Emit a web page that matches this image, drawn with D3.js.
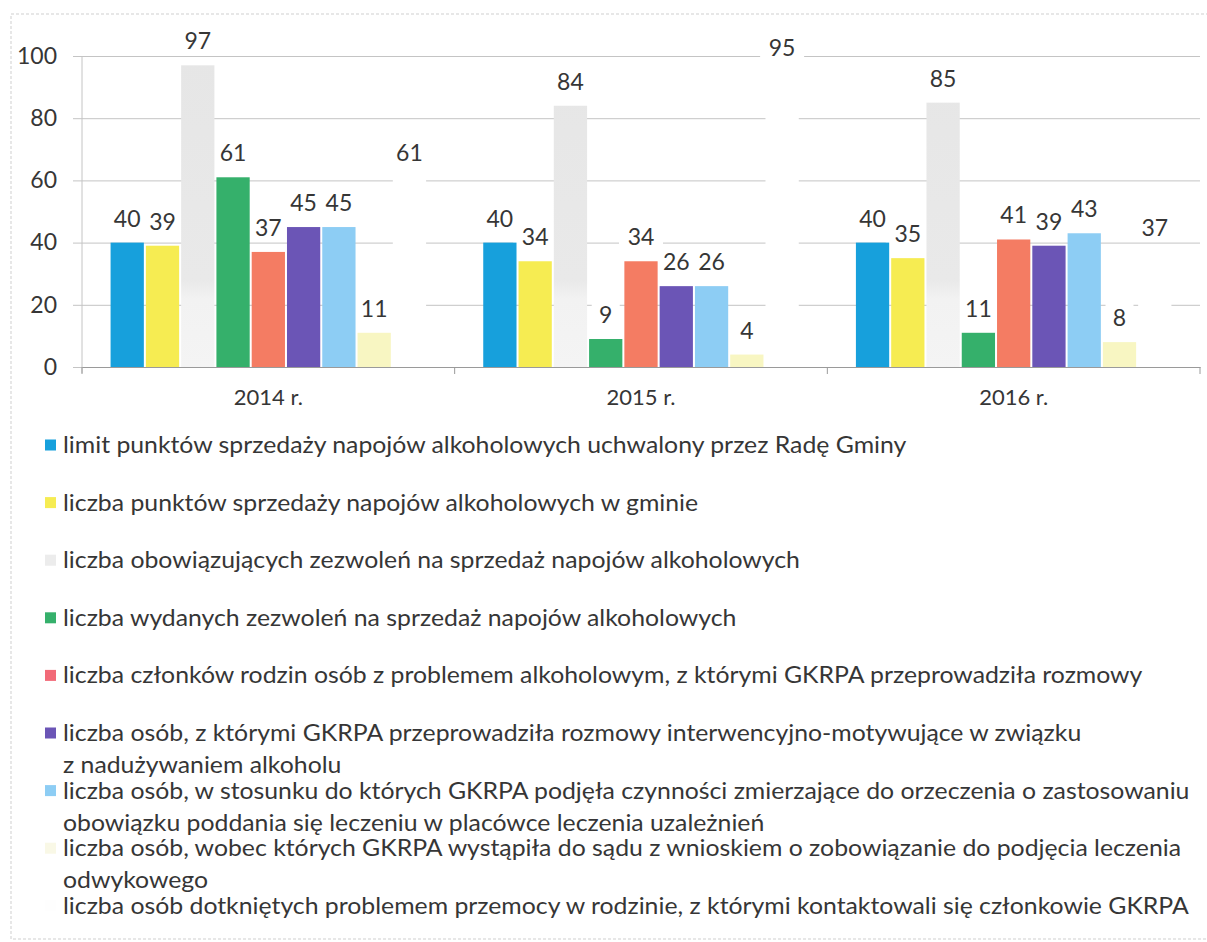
<!DOCTYPE html>
<html>
<head>
<meta charset="utf-8">
<script src="https://cdn.jsdelivr.net/npm/d3@7"></script>
<style>
  body { margin: 0; background: white; }
  svg { display: block; }
</style>
</head>
<body>
<div id="bigdiv"></div>
<script>
// categories
const years = ['2014 r.', '2015 r.', '2016 r.']

// series values, one array per series, in year order
const limitPunktow = [40, 40, 40]
const punktySprzedazy = [39, 34, 35]
const zezwoleniaObowiazujace = [97, 84, 85]
const zezwoleniaWydane = [61, 9, 11]
const czlonkowieRodzin = [37, 34, 41]
const rozmowyMotywujace = [45, 26, 39]
const czynnosciOrzeczenie = [45, 26, 43]
const wnioskiDoSadu = [11, 4, 8]
const przemoc = [61, 95, 37]

// legend texts (lines as they wrap in the picture)
const seriesLabels = [
    ['limit punktów sprzedaży napojów alkoholowych uchwalony przez Radę Gminy'],
    ['liczba punktów sprzedaży napojów alkoholowych w gminie'],
    ['liczba obowiązujących zezwoleń na sprzedaż napojów alkoholowych'],
    ['liczba wydanych zezwoleń na sprzedaż napojów alkoholowych'],
    ['liczba członków rodzin osób z problemem alkoholowym, z którymi GKRPA przeprowadziła rozmowy'],
    ['liczba osób, z którymi GKRPA przeprowadziła rozmowy interwencyjno-motywujące w związku', 'z nadużywaniem alkoholu'],
    ['liczba osób, w stosunku do których GKRPA podjęła czynności zmierzające do orzeczenia o zastosowaniu', 'obowiązku poddania się leczeniu w placówce leczenia uzależnień'],
    ['liczba osób, wobec których GKRPA wystąpiła do sądu z wnioskiem o zobowiązanie do podjęcia leczenia', 'odwykowego'],
    ['liczba osób dotkniętych problemem przemocy w rodzinie, z którymi kontaktowali się członkowie GKRPA']
]

const seriesColors = ['#17a0dc', '#f6ec52', 'url(#greygrad)', '#35b06b', '#f47c63',
    '#6b55b6', '#8dcdf4', '#f8f6c2', '#ffffff']
const legendColors = ['#17a0dc', '#f6ec52', '#ececec', '#35b06b', '#f26a78',
    '#6b55b6', '#8dcdf4', '#f9f8e6', '#fefefe']

const yTicks = [0, 20, 40, 60, 80, 100]

const allSeries = [limitPunktow, punktySprzedazy, zezwoleniaObowiazujace, zezwoleniaWydane,
    czlonkowieRodzin, rozmowyMotywujace, czynnosciOrzeczenie, wnioskiDoSadu, przemoc]

const fontFam = 'Lato, "Open Sans", sans-serif'
const textColor = '#363636'

let svg = d3.select('div#bigdiv').append('svg')
    .attr('width', 1207).attr('height', 942)

// scanned look of the grey series
let grad = svg.append('defs').append('linearGradient')
    .attr('id', 'greygrad')
    .attr('gradientUnits', 'userSpaceOnUse')
    .attr('x1', 0).attr('x2', 0).attr('y1', 57).attr('y2', 367)
grad.append('stop').attr('offset', '0%').attr('stop-color', '#e6e6e6')
grad.append('stop').attr('offset', '72%').attr('stop-color', '#e9e9e9')
grad.append('stop').attr('offset', '78%').attr('stop-color', '#f2f2f2')
grad.append('stop').attr('offset', '100%').attr('stop-color', '#f4f4f4')

// faint frame
svg.append('rect')
    .attr('x', 11).attr('y', 14).attr('width', 1220).attr('height', 925)
    .attr('fill', 'none').attr('stroke', '#cfcfcf').attr('stroke-width', 1)
    .attr('stroke-dasharray', '3,2')

let x0 = d3.scaleBand().domain(years).range([82, 1200])
let x1 = d3.scaleBand().domain(d3.range(allSeries.length))
    .range([0, x0.bandwidth()]).paddingInner(0.057).paddingOuter(0.81)
let y = d3.scaleLinear().domain([0, 100]).range([367, 56])

// gridlines + y labels
let yAxis = svg.append('g').attr('transform', 'translate(82,0)')
    .call(d3.axisLeft(y).tickValues(yTicks).tickSize(-1118).tickSizeOuter(0).tickPadding(25))
yAxis.select('.domain').remove()
yAxis.selectAll('.tick line').attr('stroke', '#c4c4c4').attr('x1', -9)
yAxis.selectAll('.tick text')
    .attr('font-family', fontFam).attr('font-size', 23).attr('fill', textColor)

// y axis line
svg.append('line').attr('x1', 82).attr('x2', 82).attr('y1', 56).attr('y2', 373)
    .attr('stroke', '#c4c4c4')

let groups = svg.append('g').selectAll('g.yearg')
    .data(years)
    .enter().append('g')
    .attr('class', 'yearg')
    .attr('transform', d => 'translate(' + x0(d) + ',0)')

let cells = (d, i) => allSeries.map((s, si) => ({ si: si, v: s[i] }))
let labGap = 16

// white boxes behind data labels (they only hide gridlines)
groups.selectAll('rect.labbox')
    .data(cells)
    .enter().append('rect')
    .attr('class', 'labbox')
    .attr('x', d => x1(d.si) + x1.bandwidth() / 2 - (String(d.v).length > 1 ? 22 : 14))
    .attr('width', d => String(d.v).length > 1 ? 44 : 28)
    .attr('y', d => y(d.v) - labGap - 24).attr('height', 30)
    .attr('fill', 'white')

// bars
groups.selectAll('rect.bar')
    .data(cells)
    .enter().append('rect')
    .attr('class', 'bar')
    .attr('x', d => x1(d.si))
    .attr('width', x1.bandwidth())
    .attr('y', d => y(d.v))
    .attr('height', d => y(0) - y(d.v))
    .attr('fill', d => seriesColors[d.si])

// x axis
let xAxis = svg.append('g').attr('transform', 'translate(0,367)')
    .call(d3.axisBottom(x0).tickSize(0).tickPadding(22))
xAxis.select('.domain').attr('stroke', '#9a9a9a')
xAxis.selectAll('.tick text')
    .attr('font-family', fontFam).attr('font-size', 22).attr('fill', textColor)
svg.append('g').selectAll('line.xt')
    .data(d3.range(years.length + 1))
    .enter().append('line')
    .attr('x1', i => 82 + i * x0.step()).attr('x2', i => 82 + i * x0.step())
    .attr('y1', 367).attr('y2', 374).attr('stroke', '#9a9a9a')

// data labels
groups.selectAll('text.lab')
    .data(cells)
    .enter().append('text')
    .attr('class', 'lab')
    .attr('x', d => x1(d.si) + x1.bandwidth() / 2)
    .attr('y', d => y(d.v) - labGap)
    .attr('text-anchor', 'middle')
    .attr('font-family', fontFam).attr('font-size', 23).attr('fill', textColor)
    .text(d => d.v)

// legend
let leg = svg.append('g').selectAll('g.legg')
    .data(seriesLabels)
    .enter().append('g')
    .attr('class', 'legg')
    .attr('transform', (d, i) => 'translate(0,' + (445 + i * 57.6) + ')')
leg.append('rect')
    .attr('x', 45).attr('y', -5.5).attr('width', 11).attr('height', 11)
    .attr('fill', (d, i) => legendColors[i])
let legText = leg.append('text')
    .attr('font-family', fontFam).attr('font-size', 23).attr('fill', textColor)
legText.selectAll('tspan')
    .data(d => d)
    .enter().append('tspan')
    .attr('x', 0)
    .attr('y', (d, i) => 8 + i * 32)
    .text(d => d)

// the scan is a bit wider than the font: stretch so line one ends at ~907
let firstW = legText.nodes()[0].getComputedTextLength()
let sx = 844 / firstW
legText.attr('transform', 'translate(63,0) scale(' + sx + ',1)')
</script>
</body>
</html>
